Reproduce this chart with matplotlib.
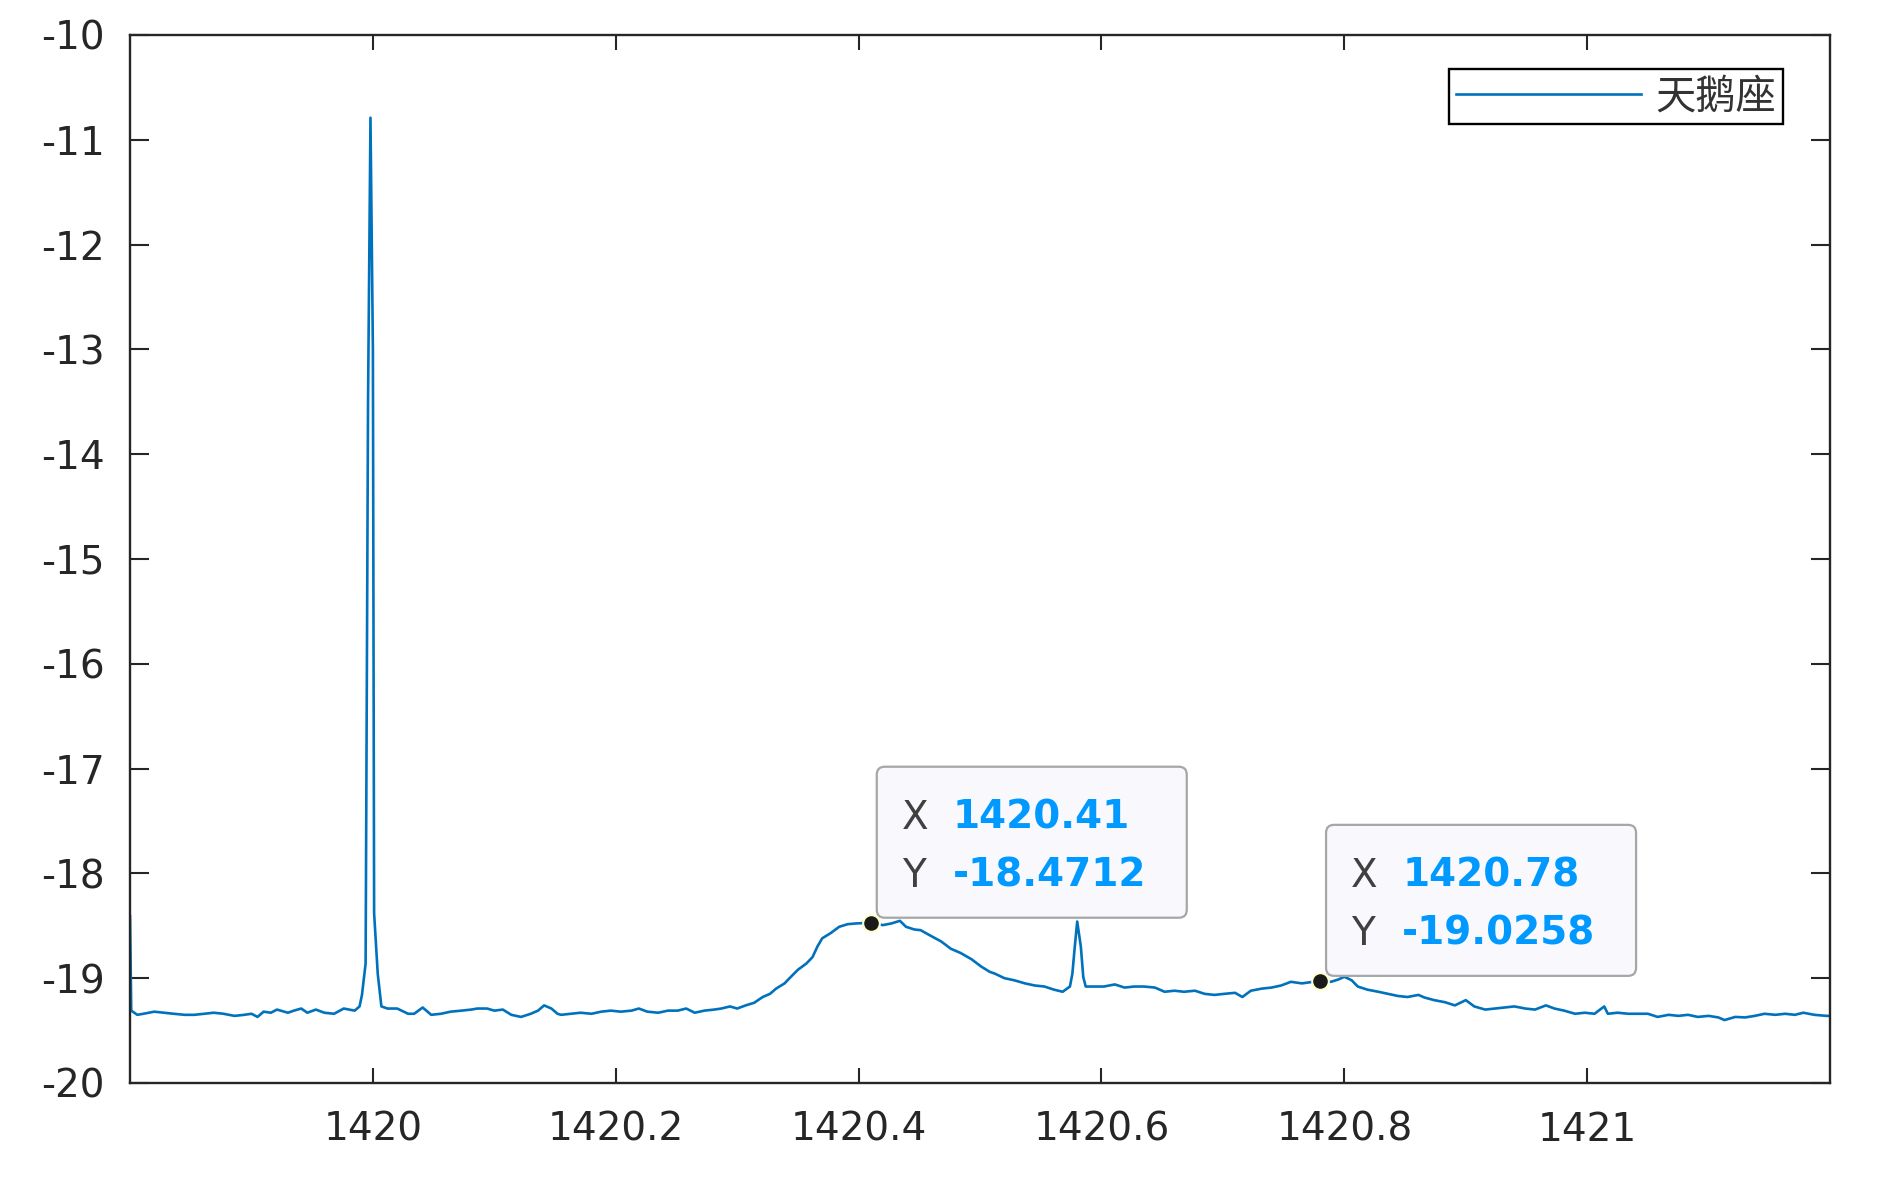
import matplotlib
matplotlib.use("Agg")
import matplotlib.pyplot as plt
import matplotlib.transforms as mtransforms
from matplotlib.patches import FancyBboxPatch
from matplotlib.font_manager import FontProperties

# Spectrum (frequency in MHz, power)
freq = [
    1419.800, 1419.801, 1419.806, 1419.811, 1419.820, 1419.828, 1419.836, 1419.845,
    1419.853, 1419.861, 1419.869, 1419.877, 1419.886, 1419.894, 1419.900, 1419.905,
    1419.910, 1419.916, 1419.921, 1419.930, 1419.935, 1419.941, 1419.946, 1419.953,
    1419.960, 1419.968, 1419.976, 1419.985, 1419.989, 1419.991, 1419.994, 1419.996,
    1419.998, 1420.000, 1420.001, 1420.004, 1420.007, 1420.012, 1420.020, 1420.029,
    1420.034, 1420.041, 1420.048, 1420.056, 1420.064, 1420.073, 1420.081, 1420.086,
    1420.094, 1420.100, 1420.107, 1420.114, 1420.122, 1420.130, 1420.136, 1420.141,
    1420.147, 1420.152,
    1420.155, 1420.163, 1420.171, 1420.180, 1420.188, 1420.196, 1420.204, 1420.213,
    1420.219, 1420.226, 1420.235, 1420.243, 1420.251, 1420.258, 1420.265, 1420.273,
    1420.281, 1420.287, 1420.294, 1420.300, 1420.307, 1420.314, 1420.321, 1420.327,
    1420.332, 1420.339, 1420.344, 1420.350, 1420.357, 1420.362, 1420.366, 1420.370,
    1420.377, 1420.384, 1420.391, 1420.398, 1420.410, 1420.420, 1420.427, 1420.434,
    1420.439, 1420.446, 1420.451, 1420.460, 1420.468, 1420.476, 1420.484, 1420.493,
    1420.501, 1420.508,
    1420.512, 1420.520, 1420.528, 1420.537, 1420.545, 1420.553, 1420.561, 1420.568,
    1420.574, 1420.576, 1420.578, 1420.580, 1420.583, 1420.585, 1420.587, 1420.594,
    1420.602, 1420.611, 1420.619, 1420.627, 1420.635, 1420.644, 1420.652, 1420.660,
    1420.668, 1420.677, 1420.685, 1420.693, 1420.701, 1420.710, 1420.716, 1420.723,
    1420.732, 1420.740, 1420.748, 1420.756, 1420.765, 1420.780, 1420.789, 1420.795,
    1420.800, 1420.806, 1420.811, 1420.819, 1420.828, 1420.836, 1420.844, 1420.852,
    1420.861,
    1420.866, 1420.874, 1420.883, 1420.891, 1420.900, 1420.907, 1420.916, 1420.924,
    1420.932, 1420.940, 1420.949, 1420.957, 1420.966, 1420.973, 1420.981, 1420.990,
    1420.998, 1421.006, 1421.014, 1421.017, 1421.025, 1421.034, 1421.042, 1421.050,
    1421.058, 1421.067, 1421.075, 1421.083, 1421.091, 1421.100, 1421.108, 1421.113,
    1421.122, 1421.130, 1421.138, 1421.146, 1421.155, 1421.163, 1421.171, 1421.178,
    1421.187, 1421.197, 1421.200,
]
power = [
    -18.41, -19.31, -19.35, -19.34, -19.32, -19.33, -19.34, -19.35,
    -19.35, -19.34, -19.33, -19.34, -19.36, -19.35, -19.34, -19.37,
    -19.32, -19.33, -19.30, -19.33, -19.31, -19.29, -19.33, -19.30,
    -19.33, -19.34, -19.29, -19.31, -19.27, -19.16, -18.86, -13.50,
    -10.79, -13.00, -18.38, -18.96, -19.27, -19.29, -19.29, -19.34,
    -19.34, -19.28, -19.35, -19.34, -19.32, -19.31, -19.30, -19.29,
    -19.29, -19.31, -19.30, -19.35, -19.37, -19.34, -19.31, -19.26,
    -19.29, -19.34,
    -19.35, -19.34, -19.33, -19.34, -19.32, -19.31, -19.32, -19.31,
    -19.29, -19.32, -19.33, -19.31, -19.31, -19.29, -19.33, -19.31,
    -19.30, -19.29, -19.27, -19.29, -19.26, -19.235, -19.18, -19.15,
    -19.10, -19.05, -18.99, -18.92, -18.86, -18.80, -18.70, -18.62,
    -18.57, -18.51, -18.485, -18.478, -18.4712, -18.494, -18.478, -18.453,
    -18.51, -18.536, -18.542, -18.60, -18.65, -18.72, -18.76, -18.82,
    -18.89, -18.94,
    -18.956, -19.00, -19.02, -19.05, -19.07, -19.08, -19.11, -19.13,
    -19.08, -18.96, -18.70, -18.46, -18.70, -18.99, -19.08, -19.08,
    -19.08, -19.06, -19.09, -19.08, -19.08, -19.09, -19.13, -19.12,
    -19.13, -19.12, -19.15, -19.16, -19.15, -19.14, -19.18, -19.12,
    -19.10, -19.09, -19.07, -19.035, -19.05, -19.0258, -19.035, -19.013,
    -18.987, -19.02, -19.08, -19.11, -19.13, -19.15, -19.17, -19.18,
    -19.16,
    -19.185, -19.21, -19.23, -19.26, -19.21, -19.27, -19.30, -19.29,
    -19.28, -19.27, -19.29, -19.30, -19.26, -19.29, -19.31, -19.34,
    -19.33, -19.34, -19.27, -19.34, -19.33, -19.34, -19.34, -19.34,
    -19.37, -19.35, -19.36, -19.35, -19.37, -19.36, -19.375, -19.40,
    -19.37, -19.375, -19.36, -19.34, -19.35, -19.34, -19.35, -19.33,
    -19.35, -19.36, -19.36,
]
series_label = "天鹅座"

# Data tips
tip_x = [1420.41, 1420.78]
tip_y = [-18.4712, -19.0258]

x_ticks = [1420, 1420.2, 1420.4, 1420.6, 1420.8, 1421]
x_tick_labels = ["1420", "1420.2", "1420.4", "1420.6", "1420.8", "1421"]
y_ticks = [-20, -19, -18, -17, -16, -15, -14, -13, -12, -11, -10]

LINE_BLUE = "#0072BD"
TIP_BLUE = "#0099FF"
TEXT_GRAY = "#262626"


def add_datatip(ax, fig, x, y):
    # box and text positioned in pixels relative to the data point
    trans = fig.dpi_scale_trans + mtransforms.ScaledTranslation(x, y, ax.transData)
    box = FancyBboxPatch(
        (0.06, 0.05), 3.10, 1.51,
        boxstyle="round,pad=0,rounding_size=0.08",
        transform=trans, facecolor="#F9F9FD", edgecolor="#A6A6A6",
        linewidth=1.6, zorder=6, clip_on=False,
    )
    ax.add_patch(box)

    font_lbl = FontProperties(family="DejaVu Sans", size=28)
    font_val = FontProperties(family="DejaVu Sans", size=28, weight="bold")
    rows = [("X", f"{x:.2f}", 105), ("Y", f"{y:.4f}", 47)]
    for name, val, dy in rows:
        ax.annotate(name, xy=(x, y), xytext=(31, dy), textcoords="offset pixels",
                    va="center", ha="left", color="#404040", fontproperties=font_lbl,
                    zorder=7, annotation_clip=False)
        ax.annotate(val, xy=(x, y), xytext=(82, dy), textcoords="offset pixels",
                    va="center", ha="left", color=TIP_BLUE, fontproperties=font_val,
                    zorder=7, annotation_clip=False)


def main():
    plt.rcParams["axes.unicode_minus"] = False
    plt.rcParams["font.family"] = ["DejaVu Sans"]

    fig = plt.figure(figsize=(18.9, 11.89), dpi=100)
    ax = fig.add_axes([0.0688, 0.0892, 0.8995, 0.8814])

    ax.plot(freq, power, color=LINE_BLUE, linewidth=1.9, label=series_label, zorder=2)

    ax.set_xlim(1419.8, 1421.2)
    ax.set_ylim(-20, -10)
    ax.set_xticks(x_ticks)
    ax.set_xticklabels(x_tick_labels)
    ax.set_yticks(y_ticks)
    ax.set_yticklabels([str(v) for v in y_ticks])

    ax.tick_params(direction="in", top=True, right=True, width=1.5,
                   colors=TEXT_GRAY, labelsize=28)
    ax.tick_params(axis="x", length=10.5, pad=20)
    ax.tick_params(axis="y", length=14, pad=18)
    for sp in ax.spines.values():
        sp.set_linewidth(1.7)
        sp.set_color(TEXT_GRAY)

    # data tip markers
    ax.plot(tip_x, tip_y, "o", markersize=12, markerfacecolor="#1A1A1A",
            markeredgecolor="#FFFFCC", markeredgewidth=1.5, zorder=8, clip_on=False)
    for x, y in zip(tip_x, tip_y):
        add_datatip(ax, fig, x, y)

    leg = ax.legend(
        loc="upper right", bbox_to_anchor=(0.9724, 0.9676), borderaxespad=0,
        prop=FontProperties(family=["Noto Sans CJK SC", "DejaVu Sans"], size=29),
        frameon=True, fancybox=False, framealpha=1, edgecolor="black",
        handlelength=4.6, handletextpad=0.35, borderpad=0.18,
    )
    leg.get_frame().set_linewidth(1.7)
    for t in leg.get_texts():
        t.set_color("#333333")

    fig.savefig("out.png", dpi=100)


if __name__ == "__main__":
    main()
